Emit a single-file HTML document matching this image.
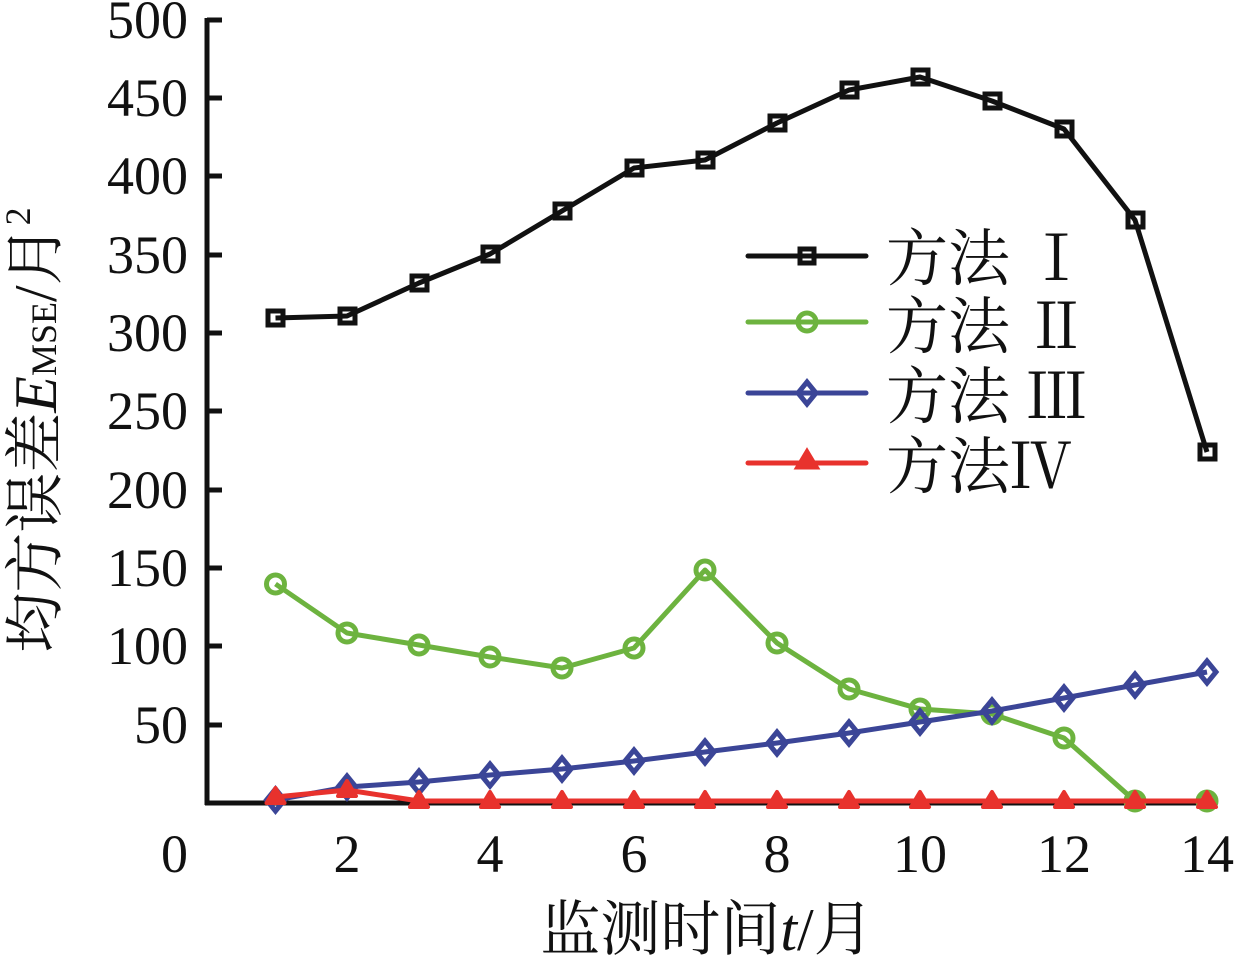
<!DOCTYPE html>
<html><head><meta charset="utf-8"><style>
html,body{margin:0;padding:0;background:#fff;}
svg{display:block;}
text{font-family:"Liberation Serif","Times New Roman","Noto Serif CJK SC",serif;fill:#111;}
.cjk{font-family:"Liberation Serif","Noto Serif CJK SC",serif;}
</style></head><body>
<svg width="1237" height="959" viewBox="0 0 1237 959" xmlns="http://www.w3.org/2000/svg">
<g stroke="#111" stroke-width="5" fill="none">
<line x1="207" y1="18" x2="207" y2="805"/>
<line x1="205" y1="803" x2="1212" y2="803"/>
<line x1="207" y1="20" x2="222" y2="20"/>
<line x1="207" y1="98" x2="222" y2="98"/>
<line x1="207" y1="176" x2="222" y2="176"/>
<line x1="207" y1="255" x2="222" y2="255"/>
<line x1="207" y1="333" x2="222" y2="333"/>
<line x1="207" y1="411" x2="222" y2="411"/>
<line x1="207" y1="490" x2="222" y2="490"/>
<line x1="207" y1="568" x2="222" y2="568"/>
<line x1="207" y1="646" x2="222" y2="646"/>
<line x1="207" y1="725" x2="222" y2="725"/>
</g>
<g font-size="54" text-anchor="end">
<text x="188" y="38">500</text><text x="188" y="116">450</text><text x="188" y="194">400</text>
<text x="188" y="273">350</text><text x="188" y="351">300</text><text x="188" y="429">250</text>
<text x="188" y="508">200</text><text x="188" y="586">150</text><text x="188" y="664">100</text>
<text x="188" y="743">50</text><text x="188" y="872">0</text>
</g>
<g font-size="54" text-anchor="middle">
<text x="347" y="872">2</text><text x="490" y="872">4</text><text x="634" y="872">6</text>
<text x="777" y="872">8</text><text x="920" y="872">10</text><text x="1064" y="872">12</text><text x="1207" y="872">14</text>
</g>
<text class="cjk" x="707" y="950" font-size="60" text-anchor="middle">监测时间<tspan font-style="italic">t</tspan>/月</text>
<text class="cjk" transform="translate(56,430) rotate(-90)" font-size="60" text-anchor="middle">均方误差<tspan font-style="italic">E</tspan><tspan font-size="36">MSE</tspan>/月<tspan font-size="36" dy="-26">2</tspan></text>

<polyline fill="none" stroke="#111" stroke-width="5" stroke-linejoin="round" points="275.5,318 347,316 419,283 490,254 562,211 634,168 705,160 777,123 849,90 920,77 992,101 1064,129 1135,220 1207,452"/>
<g fill="none" stroke="#111" stroke-width="5">
<rect x="268" y="311" width="15" height="14"/><rect x="340" y="309" width="15" height="14"/><rect x="412" y="276" width="15" height="14"/><rect x="483" y="247" width="15" height="14"/><rect x="555" y="204" width="15" height="14"/><rect x="627" y="161" width="15" height="14"/><rect x="698" y="153" width="15" height="14"/><rect x="770" y="116" width="15" height="14"/><rect x="842" y="83" width="15" height="14"/><rect x="913" y="70" width="15" height="14"/><rect x="985" y="94" width="15" height="14"/><rect x="1057" y="122" width="15" height="14"/><rect x="1128" y="213" width="15" height="14"/><rect x="1200" y="445" width="15" height="14"/>
</g>
<polyline fill="none" stroke="#6db33f" stroke-width="5" stroke-linejoin="round" points="275.5,584 347,633 419,645 490,657 562,668 634,648 705,570 777,643 849,689 920,709 992,714 1064,738 1135,801 1207,801"/>
<g fill="none" stroke="#6db33f" stroke-width="5">
<circle cx="275.5" cy="584" r="9"/><circle cx="347" cy="633" r="9"/><circle cx="419" cy="645" r="9"/><circle cx="490" cy="657" r="9"/><circle cx="562" cy="668" r="9"/><circle cx="634" cy="648" r="9"/><circle cx="705" cy="570" r="9"/><circle cx="777" cy="643" r="9"/><circle cx="849" cy="689" r="9"/><circle cx="920" cy="709" r="9"/><circle cx="992" cy="714" r="9"/><circle cx="1064" cy="738" r="9"/><circle cx="1135" cy="801" r="9"/><circle cx="1207" cy="801" r="9"/>
</g>
<polyline fill="none" stroke="#3b4597" stroke-width="5" stroke-linejoin="round" points="275.5,800 347,787 419,782 490,775 562,769 634,761 705,752 777,743 849,733 920,722 992,711 1064,698 1135,685 1207,672"/>
<g fill="none" stroke="#3b4597" stroke-width="5">
<path d="M275.5,789 l9,11 l-9,11 l-9,-11z"/><path d="M347,776 l9,11 l-9,11 l-9,-11z"/><path d="M419,771 l9,11 l-9,11 l-9,-11z"/><path d="M490,764 l9,11 l-9,11 l-9,-11z"/><path d="M562,758 l9,11 l-9,11 l-9,-11z"/><path d="M634,750 l9,11 l-9,11 l-9,-11z"/><path d="M705,741 l9,11 l-9,11 l-9,-11z"/><path d="M777,732 l9,11 l-9,11 l-9,-11z"/><path d="M849,722 l9,11 l-9,11 l-9,-11z"/><path d="M920,711 l9,11 l-9,11 l-9,-11z"/><path d="M992,700 l9,11 l-9,11 l-9,-11z"/><path d="M1064,687 l9,11 l-9,11 l-9,-11z"/><path d="M1135,674 l9,11 l-9,11 l-9,-11z"/><path d="M1207,661 l9,11 l-9,11 l-9,-11z"/>
</g>
<polyline fill="none" stroke="#e8322d" stroke-width="5" stroke-linejoin="round" points="275.5,797 347,790 419,801 490,801 562,801 634,801 705,801 777,801 849,801 920,801 992,801 1064,801 1135,801 1207,801"/>
<g fill="#e8322d" stroke="#e8322d" stroke-width="4" stroke-linejoin="round">
<path d="M275.5,788 l9,15 l-18,0z"/><path d="M347,781 l9,15 l-18,0z"/><path d="M419,792 l9,15 l-18,0z"/><path d="M490,792 l9,15 l-18,0z"/><path d="M562,792 l9,15 l-18,0z"/><path d="M634,792 l9,15 l-18,0z"/><path d="M705,792 l9,15 l-18,0z"/><path d="M777,792 l9,15 l-18,0z"/><path d="M849,792 l9,15 l-18,0z"/><path d="M920,792 l9,15 l-18,0z"/><path d="M992,792 l9,15 l-18,0z"/><path d="M1064,792 l9,15 l-18,0z"/><path d="M1135,792 l9,15 l-18,0z"/><path d="M1207,792 l9,15 l-18,0z"/>
</g>
<g stroke-width="5" stroke-linecap="round">
<line x1="748" y1="256" x2="866" y2="256" stroke="#111"/>
<rect x="800" y="249" width="14" height="14" fill="none" stroke="#111"/>
<line x1="748" y1="322" x2="866" y2="322" stroke="#6db33f"/>
<circle cx="807" cy="322" r="9" fill="none" stroke="#6db33f"/>
<line x1="748" y1="393" x2="866" y2="393" stroke="#3b4597"/>
<path d="M807,382 l9,11 l-9,11 l-9,-11z" fill="none" stroke="#3b4597"/>
<line x1="748" y1="463" x2="866" y2="463" stroke="#e8322d"/>
<path d="M807,452 l9,15 l-18,0z" fill="#e8322d" stroke="#e8322d"/>
</g>
<g class="cjk" font-size="62">
<text x="886" y="280">方法 Ⅰ</text>
<text x="886" y="348">方法 Ⅱ</text>
<text x="886" y="418">方法 Ⅲ</text>
<text x="886" y="488">方法Ⅳ</text>
</g>
</svg>
</body></html>
